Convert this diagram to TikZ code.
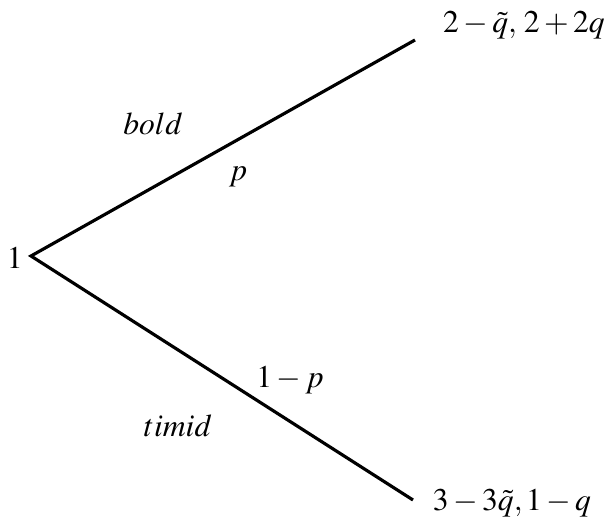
\documentclass[tikz,border=0pt]{standalone}
\usepackage{amsmath}
\usepackage{mathptmx}
\usepackage{tikz}

\tikzset{branch/.style={line width=1.8pt},
  lbl/.style={anchor=base,inner sep=0pt}}

\begin{document}
\begin{tikzpicture}[x=0.02cm,y=-0.02cm,font=\fontsize{18}{22}\selectfont]
\useasboundingbox (0,0) rectangle (616,523);
\coordinate (root) at (31,256);
\coordinate (up) at (415,40);
\coordinate (down) at (413,500);
\draw[branch] (up)--(root)--(down);
\node[anchor=east,inner sep=0pt] (player) at (23,258) {$1$};
\node[lbl] (payup) at (524,33) {$2-\tilde{q},\,2+2q$};
\node[lbl] (paydown) at (512,511) {$3-3\tilde{q},1-q$};
\node[lbl] (bold) at (153,135) {$bold$};
\node[lbl] (pup) at (238,181) {$p$};
\node[lbl] (pdown) at (290,388) {$1-p$};
\node[lbl] (timid) at (178,437) {$timid$};
\end{tikzpicture}
\end{document}
